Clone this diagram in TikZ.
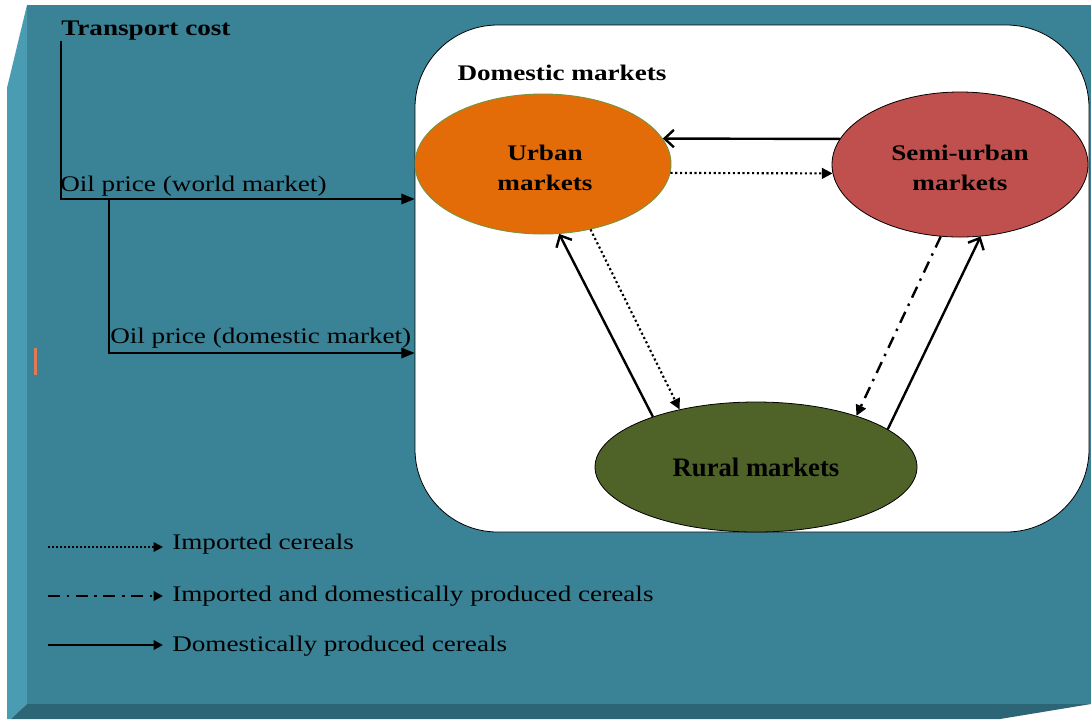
\documentclass[tikz,border=0pt]{standalone}
\usepackage{fontspec}
\setmainfont{Liberation Serif}[FakeStretch=1.22]
\newfontfamily\ruralfont{Liberation Serif}
\usetikzlibrary{shapes.geometric,arrows.meta}
\definecolor{tealmain}{HTML}{3A8296}
\definecolor{teallight}{HTML}{4A9CB3}
\definecolor{tealdark}{HTML}{2C6575}
\definecolor{urbanc}{HTML}{E36C09}
\definecolor{urbanb}{HTML}{77933C}
\definecolor{semic}{HTML}{C0504D}
\definecolor{ruralc}{HTML}{4F6228}
\definecolor{markc}{HTML}{E07A55}
\begin{document}
\begin{tikzpicture}[x=0.75pt,y=-0.75pt,
  lbl/.style={inner sep=0pt, font=\fontsize{16.7}{20}\selectfont},
  blbl/.style={inner sep=0pt, font=\fontsize{16.7}{20}\selectfont\bfseries},
  mkt/.style={ellipse, inner sep=0pt, align=center, font=\fontsize{16.7}{23}\selectfont\bfseries},
  feed/.style={line width=1pt, -{Triangle[length=10pt,width=8pt]}},
  solidarr/.style={line width=1.8pt, -{Straight Barb[length=7pt,width=13pt]}},
  dotarr/.style={line width=1.6pt, dash pattern=on 1.6pt off 2pt, -{Triangle[length=8pt,width=8pt]}},
  dasharr/.style={line width=1.8pt, dash pattern=on 9pt off 5pt on 1.8pt off 5pt, -{Triangle[length=8pt,width=8pt]}},
  legdot/.style={line width=1.4pt, dash pattern=on 1.4pt off 1.6pt, -{Triangle[length=7pt,width=7pt]}},
  legdash/.style={line width=1.8pt, dash pattern=on 9pt off 5pt on 1.8pt off 5pt, -{Triangle[length=7pt,width=7pt]}},
  legsolid/.style={line width=1.8pt, -{Triangle[length=7pt,width=7pt]}}
]
\useasboundingbox (0,0) rectangle (1091,719);
\fill[white] (0,0) rectangle (1091,719);
% 3D box background
\fill[tealmain] (27,5) rectangle (1091,704);
\fill[teallight] (7,88) -- (27,5) -- (27,704) -- (11,719) -- (7,719) -- cycle;
\fill[tealdark] (27,704) -- (1091,704) -- (1000,719) -- (11,719) -- cycle;
\fill[markc] (33.5,348) rectangle (36.5,375);

% domestic markets box
\node[draw=black, line width=0.6pt, fill=white, rounded corners=62pt,
      minimum width=505.5pt, minimum height=380.25pt, inner sep=0pt] (dom) at (752,278.5) {};
\node[blbl] (domt) at (562,73) {Domestic markets};

% markets
\node[mkt, fill=urbanc, draw=urbanb, line width=0.7pt, minimum width=192pt, minimum height=105pt] (urban) at (543,164) {};
\node[mkt, fill=semic, draw=black, line width=0.6pt, minimum width=192pt, minimum height=108.75pt] (semi) at (960,164.5) {};
\node[mkt] (urbant) at (545,168) {Urban\\markets};
\node[mkt] (semit) at (960,168) {Semi-urban\\markets};
\node[ellipse, fill=ruralc, draw=black, line width=0.6pt, inner sep=0pt, minimum width=241.5pt, minimum height=97.5pt,
      font=\ruralfont\fontsize{20}{24}\selectfont\bfseries] (rural) at (756,467) {Rural markets};

% left labels and feed lines
\node[blbl, anchor=west] (tc) at (61,31) {Transport cost};
\node[lbl, anchor=west] (owm) at (60,186) {Oil price (world market)};
\node[lbl, anchor=west] (odm) at (110,338) {Oil price (domestic market)};
\coordinate (br) at (109,199);
\draw[feed] (tc.south west) |- (dom.west |- 0,199);
\draw[feed] (br) |- (dom.west |- 0,353);

% flows
\draw[solidarr] (semi.168) -- (urban.12);
\draw[dotarr] (urban.-4.5) -- (semi.184.3);
\draw[solidarr] (rural.154.7) -- (urban.-77);
\draw[dotarr] (urban.-54.5) -- (rural.143.2);
\draw[dasharr] (semi.-105.2) -- (rural.27);
\draw[solidarr] (rural.16.5) -- (semi.-74.2);

% legend
\coordinate (l1a) at (48,547); \coordinate (l1b) at (163,547);
\coordinate (l2a) at (48,596); \coordinate (l2b) at (163,596);
\coordinate (l3a) at (48,645); \coordinate (l3b) at (163,645);
\draw[legdot] (l1a) -- (l1b);
\draw[legdash] (l2a) -- (l2b);
\draw[legsolid] (l3a) -- (l3b);
\node[lbl, anchor=west] (lt1) at (172,544) {Imported cereals};
\node[lbl, anchor=west] (lt2) at (172,596) {Imported and domestically produced cereals};
\node[lbl, anchor=west] (lt3) at (172,646) {Domestically produced cereals};
\end{tikzpicture}
\end{document}
